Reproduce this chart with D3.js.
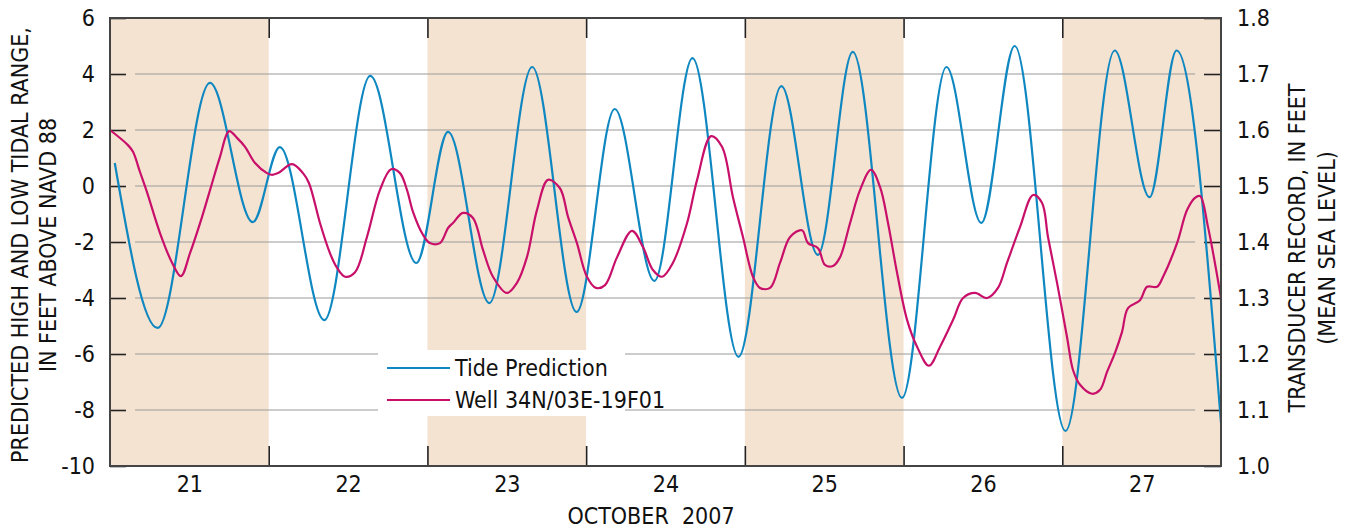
<!DOCTYPE html>
<html>
<head>
<meta charset="utf-8">
<script src="https://cdn.jsdelivr.net/npm/d3@7"></script>
<style>
  body { margin: 0; background: #fff; }
  text { font-family: "Liberation Sans Narrow", "Arial Narrow", "DejaVu Sans Condensed", sans-serif; fill: #111; }
</style>
</head>
<body>
<div id="vis"></div>
<script>
// day labels, shaded days and axis ticks
const days = [21, 22, 23, 24, 25, 26, 27];
const shadedDays = [21, 23, 25, 27];
const leftTicks = [-10, -8, -6, -4, -2, 0, 2, 4, 6];
const rightTicks = [1.0, 1.1, 1.2, 1.3, 1.4, 1.5, 1.6, 1.7, 1.8];

// tide prediction, time in days (October 2007), feet above NAVD 88
const tideTime = [21.03, 21.30, 21.63, 21.90, 22.07, 22.35, 22.64, 22.93, 23.13, 23.39,
  23.66, 23.94, 24.18, 24.43, 24.67, 24.96, 25.23, 25.46, 25.68, 25.99,
  26.27, 26.49, 26.70, 27.02, 27.33, 27.55, 27.72, 28.0];
const tideFeet = [0.82, -5.07, 3.68, -1.29, 1.39, -4.79, 3.93, -2.75, 1.93, -4.18,
  4.25, -4.5, 2.75, -3.39, 4.57, -6.1, 3.57, -2.46, 4.79, -7.57,
  4.25, -1.32, 5.0, -8.75, 4.84, -0.4, 4.84, -8.46];

// well 34N/03E-19F01 transducer record, feet (mean sea level)
const wellTime = [21.000, 21.113, 21.145, 21.189, 21.233, 21.315, 21.391, 21.447, 21.504, 21.580,
  21.643, 21.693, 21.750, 21.800, 21.851, 21.914, 21.989, 22.021, 22.059, 22.147,
  22.216, 22.254, 22.323, 22.386, 22.430, 22.481, 22.544, 22.619, 22.701, 22.771,
  22.827, 22.871, 22.909, 22.972, 23.016, 23.079, 23.130, 23.161, 23.224, 23.287,
  23.350, 23.413, 23.501, 23.564, 23.627, 23.690, 23.760, 23.835, 23.886, 23.942,
  24.005, 24.062, 24.119, 24.195, 24.289, 24.358, 24.421, 24.478, 24.547, 24.636,
  24.699, 24.787, 24.856, 24.925, 24.988, 25.051, 25.096, 25.159, 25.222, 25.285,
  25.360, 25.398, 25.461, 25.505, 25.555, 25.600, 25.663, 25.726, 25.795, 25.852,
  25.902, 25.959, 26.022, 26.085, 26.160, 26.230, 26.312, 26.375, 26.450, 26.526,
  26.595, 26.652, 26.734, 26.816, 26.872, 26.910, 26.967, 27.030, 27.068, 27.112,
  27.187, 27.238, 27.282, 27.332, 27.376, 27.414, 27.490, 27.534, 27.597, 27.635,
  27.723, 27.786, 27.836, 27.868, 27.918, 28.000];
const wellFeet = [1.600, 1.573, 1.561, 1.525, 1.489, 1.416, 1.363, 1.339, 1.380, 1.445,
  1.505, 1.552, 1.598, 1.586, 1.570, 1.541, 1.523, 1.520, 1.523, 1.539,
  1.523, 1.505, 1.434, 1.380, 1.354, 1.338, 1.346, 1.409, 1.493, 1.530,
  1.523, 1.493, 1.454, 1.413, 1.398, 1.398, 1.425, 1.434, 1.452, 1.443,
  1.386, 1.338, 1.309, 1.327, 1.373, 1.457, 1.511, 1.496, 1.445, 1.398,
  1.338, 1.318, 1.323, 1.373, 1.420, 1.391, 1.350, 1.338, 1.363, 1.434,
  1.511, 1.589, 1.570, 1.480, 1.409, 1.338, 1.318, 1.318, 1.363, 1.409,
  1.421, 1.398, 1.389, 1.359, 1.357, 1.373, 1.434, 1.493, 1.529, 1.498,
  1.434, 1.345, 1.261, 1.213, 1.179, 1.213, 1.261, 1.300, 1.309, 1.300,
  1.318, 1.363, 1.427, 1.484, 1.470, 1.409, 1.327, 1.230, 1.171, 1.145,
  1.129, 1.136, 1.168, 1.202, 1.239, 1.282, 1.296, 1.320, 1.320, 1.338,
  1.398, 1.457, 1.479, 1.482, 1.427, 1.300];

// set margins
let margin = { top: 18, left: 110, right: 130, bottom: 65 },
    width = 1351 - margin.left - margin.right,
    height = 531 - margin.top - margin.bottom;

let svg = d3.select('#vis')
  .append('svg')
  .attr('width', 1351)
  .attr('height', 531);

let g = svg.append('g')
  .attr('transform', `translate(${margin.left},${margin.top})`);

const x = d3.scaleLinear().domain([21, 28]).range([0, width]);
const y = d3.scaleLinear().domain([-10, 6]).range([height, 0]);
const y2 = d3.scaleLinear().domain([1.0, 1.8]).range([height, 0]);

// shaded days
g.selectAll('rect.shade')
  .data(shadedDays)
  .join('rect')
  .attr('class', 'shade')
  .attr('x', d => x(d))
  .attr('y', 0)
  .attr('width', d => x(d + 1) - x(d))
  .attr('height', height)
  .attr('fill', '#f5e3d2');

// grid lines
g.selectAll('line.grid')
  .data(leftTicks.slice(1, -1))
  .join('line')
  .attr('class', 'grid')
  .attr('x1', 25)
  .attr('x2', width - 26)
  .attr('y1', d => y(d))
  .attr('y2', d => y(d))
  .attr('stroke', '#9a9a9a')
  .attr('stroke-width', 1.2);

// left axis (plain hyphen for negatives, like the original)
g.append('g')
  .call(d3.axisLeft(y).tickValues(leftTicks).tickFormat(d => String(d)).tickSizeInner(-16).tickSizeOuter(0).tickPadding(15))
  .call(a => a.select('.domain').remove())
  .call(a => a.selectAll('line').attr('stroke', '#222').attr('stroke-width', 1.6))
  .call(a => a.selectAll('text').attr('font-size', 23).attr('font-family', null));

// right axis
g.append('g')
  .attr('transform', `translate(${width},0)`)
  .call(d3.axisRight(y2).tickValues(rightTicks).tickFormat(d3.format('.1f')).tickSizeInner(-17).tickSizeOuter(0).tickPadding(16))
  .call(a => a.select('.domain').remove())
  .call(a => a.selectAll('line').attr('stroke', '#222').attr('stroke-width', 1.6))
  .call(a => a.selectAll('text').attr('font-size', 23).attr('font-family', null));

// day boundary ticks top and bottom
const bounds = days.slice(1);
g.append('g')
  .attr('transform', `translate(0,${height})`)
  .call(d3.axisBottom(x).tickValues(bounds).tickSizeInner(-20).tickSizeOuter(0).tickFormat(''))
  .call(a => a.select('.domain').remove())
  .call(a => a.selectAll('line').attr('stroke', '#222').attr('stroke-width', 1.6));
g.append('g')
  .call(d3.axisTop(x).tickValues(bounds).tickSizeInner(-20).tickSizeOuter(0).tickFormat(''))
  .call(a => a.select('.domain').remove())
  .call(a => a.selectAll('line').attr('stroke', '#222').attr('stroke-width', 1.6));

// day labels
g.append('g')
  .attr('transform', `translate(0,${height})`)
  .call(d3.axisBottom(x).tickValues(days.map(d => d + 0.5)).tickFormat(d => Math.floor(d)).tickSize(0).tickPadding(10))
  .call(a => a.select('.domain').remove())
  .call(a => a.selectAll('text').attr('font-size', 23).attr('font-family', null));

// legend box
const lg = g.append('g').attr('transform', `translate(${378 - margin.left},${350 - margin.top})`);
lg.append('rect').attr('width', 247).attr('height', 66).attr('fill', '#fff');

// lines
const tideLine = d3.line()
  .x((d, i) => x(tideTime[i]))
  .y(d => y(d))
  .curve(d3.curveMonotoneX);
const wellLine = d3.line()
  .x((d, i) => x(wellTime[i]))
  .y(d => y2(d))
  .curve(d3.curveCatmullRom.alpha(0.5));

g.append('path')
  .attr('d', tideLine(tideFeet))
  .attr('fill', 'none')
  .attr('stroke', '#0f87c0')
  .attr('stroke-width', 2.2);

g.append('path')
  .attr('d', wellLine(wellFeet))
  .attr('fill', 'none')
  .attr('stroke', '#c8106a')
  .attr('stroke-width', 2.2);

// legend entries
const legendItems = [
  { name: 'Tide Prediction', color: '#0f87c0' },
  { name: 'Well 34N/03E-19F01', color: '#c8106a' }
];
const li = lg.selectAll('g.item')
  .data(legendItems)
  .join('g')
  .attr('class', 'item')
  .attr('transform', (d, i) => `translate(0,${18 + i * 32})`);
li.append('line')
  .attr('x1', 9).attr('x2', 72)
  .attr('stroke', d => d.color)
  .attr('stroke-width', 2.2);
li.append('text')
  .attr('x', 77)
  .attr('y', 8)
  .attr('font-size', 23)
  .text(d => d.name);

// frame
g.append('rect')
  .attr('width', width)
  .attr('height', height)
  .attr('fill', 'none')
  .attr('stroke', '#444')
  .attr('stroke-width', 2);

// axis titles
svg.append('text')
  .attr('transform', 'translate(28,245) rotate(-90)')
  .attr('text-anchor', 'middle')
  .attr('font-size', 23)
  .text('PREDICTED HIGH AND LOW TIDAL RANGE,');
svg.append('text')
  .attr('transform', 'translate(56,245) rotate(-90)')
  .attr('text-anchor', 'middle')
  .attr('font-size', 23)
  .text('IN FEET ABOVE NAVD 88');
svg.append('text')
  .attr('transform', 'translate(1305,248) rotate(-90)')
  .attr('text-anchor', 'middle')
  .attr('font-size', 23)
  .text('TRANSDUCER RECORD, IN FEET');
svg.append('text')
  .attr('transform', 'translate(1335,248) rotate(-90)')
  .attr('text-anchor', 'middle')
  .attr('font-size', 23)
  .text('(MEAN SEA LEVEL)');
svg.append('text')
  .attr('x', 651)
  .attr('y', 524)
  .attr('text-anchor', 'middle')
  .attr('font-size', 23)
  .style('white-space', 'pre')
  .text('OCTOBER  2007');
</script>
</body>
</html>
